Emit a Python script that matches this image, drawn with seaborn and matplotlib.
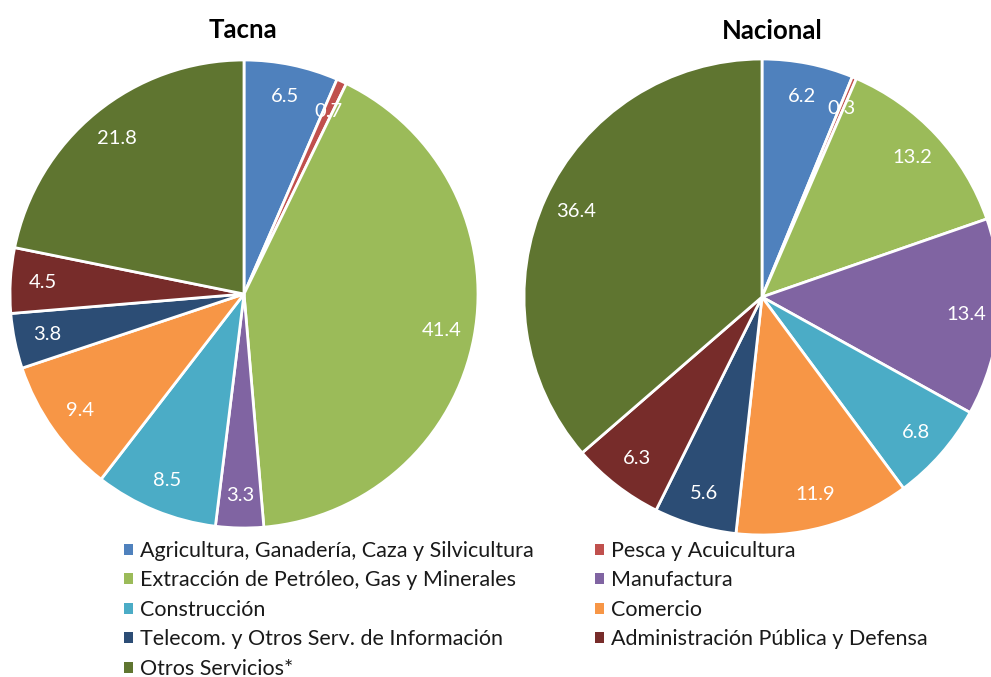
import numpy as np
import matplotlib
matplotlib.use("Agg")
import matplotlib.pyplot as plt
from matplotlib.patches import Patch
import seaborn as sns

sns.set_theme(style="white")
plt.rcParams["font.family"] = ["Lato", "DejaVu Sans"]

sectores = [
    "Agricultura, Ganadería, Caza y Silvicultura",
    "Pesca y Acuicultura",
    "Extracción de Petróleo, Gas y Minerales",
    "Manufactura",
    "Construcción",
    "Comercio",
    "Telecom. y Otros Serv. de Información",
    "Administración Pública y Defensa",
    "Otros Servicios*",
]
tacna = [6.5, 0.7, 41.4, 3.3, 8.5, 9.4, 3.8, 4.5, 21.8]
nacional = [6.2, 0.3, 13.2, 13.4, 6.8, 11.9, 5.6, 6.3, 36.4]
colores = ["#4F81BD", "#C0504D", "#9BBB59", "#8064A2", "#4BACC6",
           "#F79646", "#2C4D75", "#772C2A", "#5F7530"]

W, H = 991, 677
fig = plt.figure(figsize=(W / 100, H / 100), dpi=100)


def pie_axes(cx, cy, r):
    return fig.add_axes([(cx - r) / W, (H - cy - r) / H, 2 * r / W, 2 * r / H])


def dibujar(ax, valores):
    wedges, _ = ax.pie(valores, colors=colores, startangle=90, counterclock=False,
                       wedgeprops=dict(edgecolor="white", linewidth=2.0))
    for w, v in zip(wedges, valores):
        ang = np.deg2rad((w.theta1 + w.theta2) / 2)
        d = 0.86
        ax.text(d * np.cos(ang), d * np.sin(ang), f"{v:.1f}", color="white",
                ha="center", va="center", fontsize=14.5)
    ax.set_xlim(-1, 1)
    ax.set_ylim(-1, 1)
    ax.set_aspect("equal")
    ax.axis("off")


ax1 = pie_axes(244, 294, 234)
dibujar(ax1, tacna)
ax2 = pie_axes(762, 297, 238)
dibujar(ax2, nacional)

fig.text(243 / W, 1 - 30 / H, "Tacna", ha="center", va="center",
         fontsize=18.5, fontweight="bold", color="black")
fig.text(772 / W, 1 - 31 / H, "Nacional", ha="center", va="center",
         fontsize=18.5, fontweight="bold", color="black")

handles = [Patch(facecolor=c, edgecolor="none") for c in colores]
orden = [0, 2, 4, 6, 8, 1, 3, 5, 7]
leg = fig.legend([handles[i] for i in orden], [sectores[i] for i in orden],
                 ncol=2, loc="upper left", bbox_to_anchor=(124 / W, 1 - 541 / H),
                 frameon=False, fontsize=15.5, handlelength=0.4, handleheight=0.4,
                 handletextpad=0.35, labelspacing=0.44, columnspacing=2.85,
                 borderaxespad=0, borderpad=0)
for t in leg.get_texts():
    t.set_color("#1a1a1a")

fig.savefig("out.png", dpi=100)
